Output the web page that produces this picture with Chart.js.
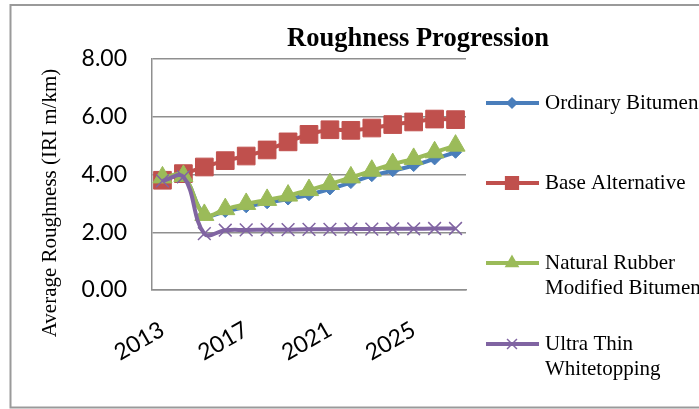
<!DOCTYPE html>
<html>
<head>
<meta charset="utf-8">
<script src="https://cdn.jsdelivr.net/npm/chart.js@4.4.0/dist/chart.umd.min.js"></script>
<style>
html, body { margin: 0; padding: 0; overflow: hidden; background: #fff; }
#wrap { width: 836px; height: 409px; }
</style>
</head>
<body>
<div id="wrap"><canvas id="graph" width="836" height="409"></canvas></div>
<script>
const years = ['2013', '2014', '2015', '2016', '2017', '2018', '2019', '2020',
  '2021', '2022', '2023', '2024', '2025', '2026', '2027']
const shownYears = ['2013', '2017', '2021', '2025']
const yTicks = [0, 2, 4, 6, 8]

const ordinary = [3.85, 3.92, 2.62, 2.72, 2.88, 3.02, 3.15, 3.3, 3.5, 3.72, 3.96, 4.13, 4.31, 4.54, 4.77]
const baseAlt = [3.8, 4.03, 4.26, 4.48, 4.64, 4.85, 5.13, 5.39, 5.55, 5.53, 5.61, 5.73, 5.82, 5.92, 5.9]
const rubber = [3.9, 3.95, 2.6, 2.8, 2.98, 3.12, 3.27, 3.46, 3.67, 3.9, 4.13, 4.36, 4.54, 4.77, 5.0]
const whitetop = [3.78, 3.92, 1.95, 2.07, 2.08, 2.09, 2.09, 2.1, 2.1, 2.11, 2.11, 2.12, 2.12, 2.13, 2.13]

const blue = '#4a7ebb'
const red = '#c0504d'
const green = '#9bbb59'
const purple = '#8064a2'
const gridGray = '#8f8f8f'

// legend drawn by hand: Excel puts the entries far apart on the right
const legendItems = [
  { lines: ['Ordinary Bitumen'], color: blue, style: 'rectRot', r: 5, y: 103 },
  { lines: ['Base Alternative'], color: red, style: 'rect', r: 9, y: 183 },
  { lines: ['Natural Rubber', 'Modified Bitumen'], color: green, style: 'triangle', r: 7, y: 263 },
  { lines: ['Ultra Thin', 'Whitetopping'], color: purple, style: 'crossRot', r: 7, y: 344 }
]

const decor = {
  id: 'decor',
  beforeDraw(chart) {
    const ctx = chart.ctx
    ctx.save()
    ctx.fillStyle = '#fff'
    ctx.fillRect(0, 0, chart.width, chart.height)
    ctx.strokeStyle = '#9a9a9a'
    ctx.lineWidth = 2
    ctx.strokeRect(10.5, 5, 815, 402.5)
    ctx.restore()
  },
  afterDraw(chart) {
    const ctx = chart.ctx
    ctx.save()
    ctx.fillStyle = '#000'
    ctx.textAlign = 'center'
    ctx.textBaseline = 'alphabetic'
    ctx.font = 'bold 26.5px "Liberation Serif"'
    ctx.fillText('Roughness Progression', 418, 46)

    ctx.translate(50, 203)
    ctx.rotate(-Math.PI / 2)
    ctx.textBaseline = 'middle'
    ctx.font = '21px "Liberation Serif"'
    ctx.fillText('Average Roughness (IRI m/km)', 0, 0)
    ctx.restore()

    ctx.save()
    legendItems.forEach(item => {
      ctx.strokeStyle = item.color
      ctx.lineWidth = 4
      ctx.beginPath()
      ctx.moveTo(486, item.y)
      ctx.lineTo(539, item.y)
      ctx.stroke()
      ctx.fillStyle = item.color
      ctx.lineWidth = 1.5
      Chart.helpers.drawPoint(ctx, { pointStyle: item.style, radius: item.r, rotation: 0, borderWidth: 1.5 }, 512, item.y)
      ctx.fillStyle = '#000'
      ctx.textAlign = 'left'
      ctx.textBaseline = 'middle'
      ctx.font = '21px "Liberation Serif"'
      item.lines.forEach((t, i) => ctx.fillText(t, 545, item.y + i * 25))
    })
    ctx.restore()
  }
}

const graphRef = document.getElementById('graph')

const config = {
  type: 'line',
  data: {
    labels: years,
    datasets: [
      { label: 'Ordinary Bitumen', data: ordinary, borderColor: blue, backgroundColor: blue,
        pointStyle: 'rectRot', pointRadius: 6, pointBorderWidth: 1, order: 4 },
      { label: 'Base Alternative', data: baseAlt, borderColor: red, backgroundColor: red,
        pointStyle: 'rect', pointRadius: 12.5, pointBorderWidth: 1, order: 3 },
      { label: 'Natural Rubber Modified Bitumen', data: rubber, borderColor: green, backgroundColor: green,
        pointStyle: 'triangle', pointRadius: 11, pointBorderWidth: 1, order: 2 },
      { label: 'Ultra Thin Whitetopping', data: whitetop, borderColor: purple, backgroundColor: purple,
        pointStyle: 'crossRot', pointRadius: 9, pointBorderWidth: 1.5, order: 1 }
    ]
  },
  options: {
    responsive: false,
    animation: false,
    elements: { line: { borderWidth: 4, tension: 0.4 } },
    layout: { padding: { left: 0, right: 370, top: 59, bottom: 0 } },
    plugins: {
      legend: { display: false },
      title: { display: false },
      tooltip: { enabled: false }
    },
    scales: {
      x: {
        offset: true,
        grid: { display: true, drawOnChartArea: false, drawTicks: false },
        border: { display: true, color: gridGray, width: 1.5 },
        ticks: {
          autoSkip: false, minRotation: 30, maxRotation: 30, padding: 26,
          color: '#000', font: { family: 'Lato', size: 23 },
          callback(v) {
            const l = this.getLabelForValue(v)
            return shownYears.includes(l) ? l : ''
          }
        },
        afterFit(s) { s.height = 119 }
      },
      y: {
        min: 0, max: 8,
        afterBuildTicks(s) { s.ticks = yTicks.map(v => ({ value: v })) },
        grid: { color: gridGray, lineWidth: 1.5, drawTicks: false },
        border: { display: true, color: gridGray, width: 1.5 },
        ticks: {
          padding: 25, color: '#000', font: { family: 'Lato', size: 23 },
          callback: v => v.toFixed(2)
        },
        afterFit(s) { s.width = 152 }
      }
    }
  },
  plugins: [decor]
}

new Chart(graphRef, config)
</script>
</body>
</html>
